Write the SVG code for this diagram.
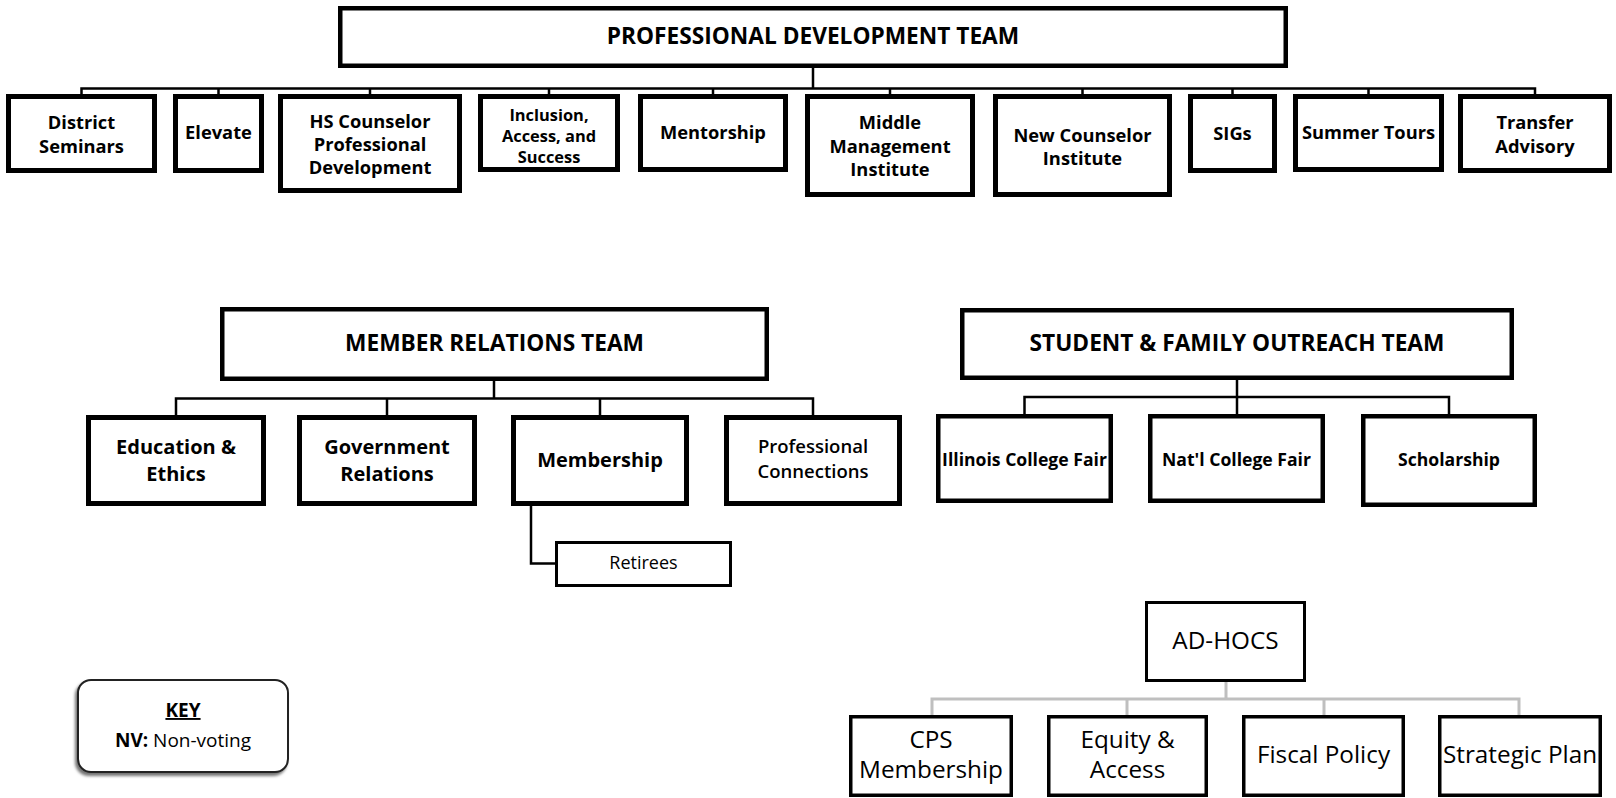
<svg xmlns="http://www.w3.org/2000/svg" width="1616" height="798" viewBox="0 0 1616 798">
<style>
.box{fill:#fff;stroke:#000;stroke-width:5}
.team{stroke-width:4.5}
.mid{stroke-width:4.5}
.thin{stroke-width:3}
.adh{stroke-width:3.5}
.conn{fill:none;stroke:#000;stroke-width:2.5}
.gconn{fill:none;stroke:#bfbfbf;stroke-width:3}
text{font-family:"Open Sans","Liberation Sans",sans-serif;fill:#000;text-anchor:middle}
.title{font-size:22.7px;font-weight:700}
.pd{font-size:18.3px;font-weight:700}
.mr{font-size:20px;font-weight:700}
.sf{font-size:17.6px;font-weight:700}
.ah{font-size:24.3px}
.key{font-size:19px}
</style>
<defs>
<filter id="shadow" x="-10%" y="-10%" width="120%" height="130%">
<feDropShadow dx="-2" dy="3" stdDeviation="1.5" flood-color="#000" flood-opacity="0.55"/>
</filter>
</defs>

<g id="connectors">
<path class="conn" d="M813 68 V88.5 M81.5 94 V88.5 H1535 V94 M218.5 88.5 V94 M370 88.5 V94 M549 88.5 V94 M713 88.5 V94 M890 88.5 V94 M1082.5 88.5 V94 M1232.5 88.5 V94 M1368.5 88.5 V94"/>
<path class="conn" d="M494 381 V398.5 M176 415 V398.5 H813 V415 M387 398.5 V415 M600 398.5 V415"/>
<path class="conn" d="M531 506 V563.5 H555"/>
<path class="conn" d="M1237 380 V414 M1024.5 414 V397 H1449 V414"/>
<path class="gconn" d="M1226 682 V699 M932 715 V699 H1519 V715 M1127 699 V715 M1324 699 V715"/>
</g>

<g id="pdt">
<rect class="box team" x="340.25" y="8.25" width="945.5" height="57.5"/>
<text class="title" x="813" y="44">PROFESSIONAL DEVELOPMENT TEAM</text>
</g>
<g id="district-seminars">
<rect class="box" x="8.5" y="96.5" width="146" height="74"/>
<text class="pd" x="81.5" y="129">District</text>
<text class="pd" x="81.5" y="153">Seminars</text>
</g>
<g id="elevate">
<rect class="box" x="175.5" y="96.5" width="86" height="74"/>
<text class="pd" x="218.5" y="139">Elevate</text>
</g>
<g id="hs-counselor">
<rect class="box" x="280.5" y="96.5" width="179" height="94"/>
<text class="pd" x="370" y="128">HS Counselor</text>
<text class="pd" x="370" y="151">Professional</text>
<text class="pd" x="370" y="174">Development</text>
</g>
<g id="inclusion">
<rect class="box" x="480.5" y="96.5" width="137" height="73"/>
<text class="pd" x="549" y="121" style="font-size:16.4px">Inclusion,</text>
<text class="pd" x="549" y="142" style="font-size:16.4px">Access, and</text>
<text class="pd" x="549" y="163" style="font-size:16.4px">Success</text>
</g>
<g id="mentorship">
<rect class="box" x="640.5" y="96.5" width="145" height="73"/>
<text class="pd" x="713" y="139">Mentorship</text>
</g>
<g id="middle-management">
<rect class="box" x="807.5" y="96.5" width="165" height="98"/>
<text class="pd" x="890" y="129">Middle</text>
<text class="pd" x="890" y="153">Management</text>
<text class="pd" x="890" y="176">Institute</text>
</g>
<g id="new-counselor">
<rect class="box" x="995.5" y="96.5" width="174" height="98"/>
<text class="pd" x="1082.5" y="142">New Counselor</text>
<text class="pd" x="1082.5" y="165">Institute</text>
</g>
<g id="sigs">
<rect class="box" x="1190.5" y="96.5" width="84" height="74"/>
<text class="pd" x="1232.5" y="140">SIGs</text>
</g>
<g id="summer-tours">
<rect class="box" x="1295.5" y="96.5" width="146" height="73"/>
<text class="pd" x="1368.5" y="139">Summer Tours</text>
</g>
<g id="transfer-advisory">
<rect class="box" x="1460.5" y="96.5" width="149" height="74"/>
<text class="pd" x="1535" y="129">Transfer</text>
<text class="pd" x="1535" y="153">Advisory</text>
</g>

<g id="mrt">
<rect class="box team" x="222.25" y="309.25" width="544.5" height="69.5"/>
<text class="title" x="494.5" y="351">MEMBER RELATIONS TEAM</text>
</g>
<g id="education-ethics">
<rect class="box" x="88.5" y="417.5" width="175" height="86"/>
<text class="mr" x="176" y="454">Education &amp;</text>
<text class="mr" x="176" y="481">Ethics</text>
</g>
<g id="government-relations">
<rect class="box" x="299.5" y="417.5" width="175" height="86"/>
<text class="mr" x="387" y="454">Government</text>
<text class="mr" x="387" y="481">Relations</text>
</g>
<g id="membership">
<rect class="box" x="513.5" y="417.5" width="173" height="86"/>
<text class="mr" x="600" y="467">Membership</text>
</g>
<g id="professional-connections">
<rect class="box" x="726.5" y="417.5" width="173" height="86"/>
<text x="813" y="453" style="font-size:18.5px;font-weight:600">Professional</text>
<text x="813" y="478" style="font-size:18.5px;font-weight:600">Connections</text>
</g>
<g id="retirees">
<rect class="box thin" x="556.5" y="542.5" width="174" height="43"/>
<text x="643.5" y="569" style="font-size:18px">Retirees</text>
</g>

<g id="sfot">
<rect class="box team" x="962.25" y="310.25" width="549.5" height="67.5"/>
<text class="title" x="1237" y="351">STUDENT &amp; FAMILY OUTREACH TEAM</text>
</g>
<g id="illinois-college-fair">
<rect class="box mid" x="938.25" y="416.25" width="172.5" height="84.5"/>
<text class="sf" x="1024.5" y="466">Illinois College Fair</text>
</g>
<g id="natl-college-fair">
<rect class="box mid" x="1150.25" y="416.25" width="172.5" height="84.5"/>
<text class="sf" x="1236.5" y="466">Nat'l College Fair</text>
</g>
<g id="scholarship">
<rect class="box mid" x="1363.25" y="416.25" width="171.5" height="88.5"/>
<text class="sf" x="1449" y="466">Scholarship</text>
</g>

<g id="ad-hocs">
<rect class="box thin" x="1146.5" y="602.5" width="158" height="78"/>
<text class="ah" x="1225.5" y="649">AD-HOCS</text>
</g>
<g id="cps-membership">
<rect class="box adh" x="850.75" y="716.75" width="160.5" height="78.5"/>
<text class="ah" x="931" y="748">CPS</text>
<text class="ah" x="931" y="778">Membership</text>
</g>
<g id="equity-access">
<rect class="box adh" x="1048.75" y="716.75" width="157.5" height="78.5"/>
<text class="ah" x="1127.5" y="748">Equity &amp;</text>
<text class="ah" x="1127.5" y="778">Access</text>
</g>
<g id="fiscal-policy">
<rect class="box adh" x="1243.75" y="716.75" width="159.5" height="78.5"/>
<text class="ah" x="1323.5" y="763">Fiscal Policy</text>
</g>
<g id="strategic-plan">
<rect class="box adh" x="1439.75" y="716.75" width="160.5" height="78.5"/>
<text class="ah" x="1520" y="763">Strategic Plan</text>
</g>

<g id="key">
<rect x="78" y="680" width="210" height="92" rx="13" fill="#fff" stroke="#222" stroke-width="2" filter="url(#shadow)"/>
<text class="key" x="183" y="717" font-weight="700" text-decoration="underline">KEY</text>
<text class="key" x="183" y="747"><tspan font-weight="700">NV:</tspan> Non-voting</text>
</g>
</svg>
